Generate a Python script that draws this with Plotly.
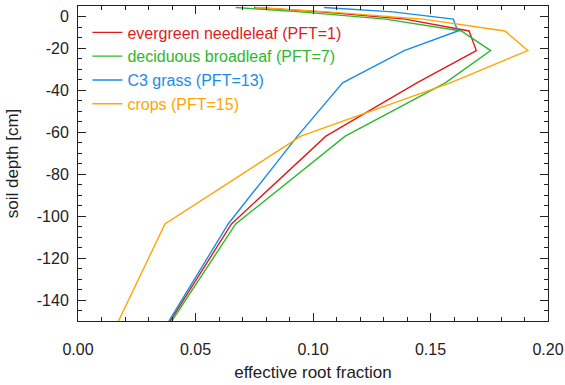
import plotly.graph_objects as go

# soil layer node depths [cm]
depth = [-0.71, -2.79, -6.23, -11.89, -21.22, -36.61, -61.98, -103.80, -172.76]

# effective root fraction per layer
evergreen = [0.0749, 0.1035, 0.1392, 0.1664, 0.1695, 0.1442, 0.1055, 0.0653, 0.0264]
deciduous = [0.0671, 0.0946, 0.1309, 0.1631, 0.1756, 0.1563, 0.1137, 0.0671, 0.0265]
c3grass = [0.1047, 0.1339, 0.1597, 0.1616, 0.1388, 0.1126, 0.0934, 0.0639, 0.0263]
crops = [0.0754, 0.1065, 0.1468, 0.1817, 0.1914, 0.1584, 0.0948, 0.0370, 0.0075]

names = ["evergreen needleleaf (PFT=1)", "deciduous broadleaf (PFT=7)",
         "C3 grass (PFT=13)", "crops (PFT=15)"]
colors = ["#dd1c1c", "#2db82d", "#1a8ce6", "#ffa500"]
series = [evergreen, deciduous, c3grass, crops]

x_tickvals = [0.0, 0.05, 0.10, 0.15, 0.20]
y_tickvals = [-140, -120, -100, -80, -60, -40, -20, -5]
y_ticktext = ["-140", "-120", "-100", "-80", "-60", "-40", "-20", "0"]

FAM = "Liberation Sans, Arial, sans-serif"
INK = "#222222"

fig = go.Figure()
for nm, col, vals in zip(names, colors, series):
    fig.add_trace(go.Scatter(
        x=vals, y=depth, mode="lines",
        line=dict(color=col, width=1.4),
        name=f'<span style="color:{col}">{nm}</span>',
        legendgroup=nm,
    ))

fig.update_layout(
    width=565, height=385,
    margin=dict(l=78, r=17, t=6, b=64),
    paper_bgcolor="white", plot_bgcolor="white",
    font=dict(family=FAM, size=16, color=INK),
    showlegend=True,
    legend=dict(x=0.02, y=0.97, xanchor="left", yanchor="top",
                bgcolor="rgba(0,0,0,0)", borderwidth=0,
                tracegroupgap=0, font=dict(family=FAM, size=16, color=INK)),
)
fig.update_xaxes(
    range=[0, 0.2], tickvals=x_tickvals, tickformat=".2f",
    tickfont=dict(family=FAM, size=16, color=INK),
    ticks="inside", ticklen=8, tickcolor=INK, tickwidth=1,
    minor=dict(dtick=0.01, tick0=0, ticks="inside", ticklen=4, tickcolor=INK),
    showline=True, linecolor=INK, linewidth=1, mirror="allticks",
    showgrid=False, zeroline=False, automargin=False,
    ticklabelstandoff=14,
    title=dict(text="effective root fraction", standoff=8,
               font=dict(family=FAM, size=17, color=INK)),
)
fig.update_yaxes(
    range=[-150, 0], tickvals=y_tickvals, ticktext=y_ticktext,
    tickfont=dict(family=FAM, size=16, color=INK),
    ticks="inside", ticklen=8, tickcolor=INK, tickwidth=1,
    minor=dict(dtick=5, tick0=0, ticks="inside", ticklen=4, tickcolor=INK),
    showline=True, linecolor=INK, linewidth=1, mirror="allticks",
    showgrid=False, zeroline=False, automargin=False,
    ticklabelstandoff=5,
    title=dict(text="soil depth [cm]", standoff=13,
               font=dict(family=FAM, size=17, color=INK)),
)

fig.write_html("out.html", config={"displayModeBar": False},
               post_script="document.body.style.margin='0';document.body.style.overflow='hidden';")
